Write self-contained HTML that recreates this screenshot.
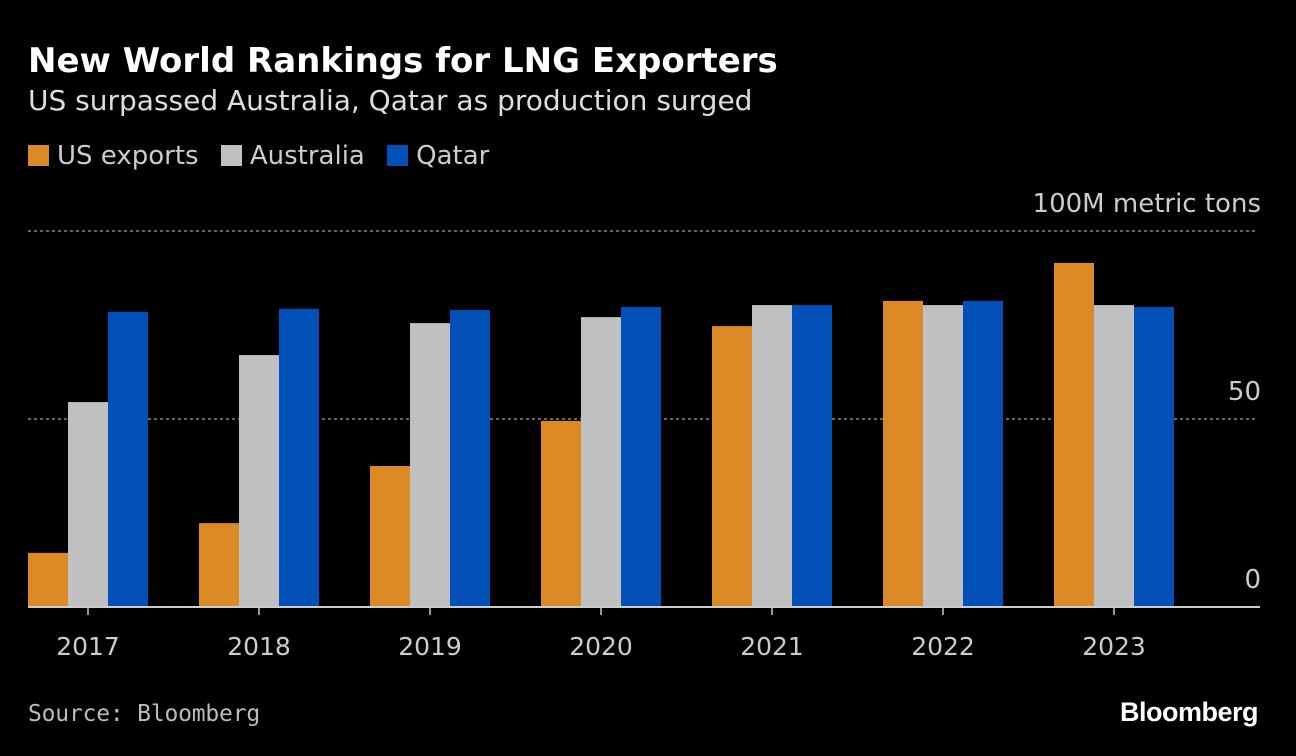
<!DOCTYPE html>
<html><head><meta charset="utf-8"><style>
body{margin:0;background:#000;width:1296px;height:756px;overflow:hidden;font-family:"DejaVu Sans","Liberation Sans",sans-serif;color:#fff}
.t{position:absolute;white-space:nowrap}
.sq{display:inline-block;width:21px;height:21px;vertical-align:-2px;margin-right:8px}
</style></head><body>
<div class="t" style="left:28px;top:41px;font-size:34px;font-weight:bold">New World Rankings for LNG Exporters</div>
<div class="t" style="left:28px;top:84px;font-size:28px;color:#ddd">US surpassed Australia, Qatar as production surged</div>
<div class="t" style="left:28px;top:141px;font-size:26px;color:#ccc">
<span><span class="sq" style="background:#dc8a26"></span>US exports</span>
<span style="margin-left:14px"><span class="sq" style="background:#c0c0c0"></span>Australia</span>
<span style="margin-left:14px"><span class="sq" style="background:#0050b8"></span>Qatar</span>
</div>
<svg id="c" width="1296" height="756" style="position:absolute;left:0;top:0"></svg>
<div class="t" style="left:28px;top:701px;font-size:23px;color:#bbb;font-family:'DejaVu Sans Mono','Liberation Mono',monospace;letter-spacing:-0.2px">Source: Bloomberg</div>
<div class="t" style="right:38px;top:697px;font-size:27px;font-weight:bold;letter-spacing:-0.5px;font-family:'Liberation Sans',sans-serif">Bloomberg</div>
<script>
const years=["2017","2018","2019","2020","2021","2022","2023"];
const usExports=[14.4,22.3,37.5,49.5,74.7,81.4,91.5];
const australia=[54.5,67.0,75.5,77.1,80.3,80.3,80.3];
const qatar=[78.5,79.3,79.0,79.8,80.3,81.4,79.8];
const yTicks=[0,50,100];
const yTickLabels=["0","50","100M metric tons"];
const svg=document.getElementById('c');
const NS="http://www.w3.org/2000/svg";
const y=v=>607-v*3.76;
const gx=i=>28+i*171;
function mk(t,a){const e=document.createElementNS(NS,t);for(const k in a)e.setAttribute(k,a[k]);svg.appendChild(e);return e;}
yTicks.forEach((v,i)=>{
 if(v>0){const l=mk('line',{x1:28,x2:1258,y1:y(v),y2:y(v),stroke:'#888','stroke-width':1.5,'stroke-dasharray':'3,3'});
 
 }
 const t=mk('text',{x:1261,y:y(v)-19,'text-anchor':'end','font-size':26,fill:'#ccc','font-family':'DejaVu Sans, sans-serif'});
 t.textContent=yTickLabels[i];
 
 
});
const series=[[usExports,'#dc8a26','us'],[australia,'#c0c0c0','australia'],[qatar,'#0050b8','qatar']];
years.forEach((yr,i)=>{
 series.forEach((s,j)=>{
  const r=mk('rect',{x:gx(i)+j*40,y:y(s[0][i]),width:40,height:607-y(s[0][i]),fill:s[1]});
  
  
 });
 const tk=mk('line',{x1:gx(i)+60,x2:gx(i)+60,y1:607,y2:615,stroke:'#ccc','stroke-width':1.5});
 
 
 const t=mk('text',{x:gx(i)+60,y:655,'text-anchor':'middle','font-size':25,fill:'#ccc','font-family':'DejaVu Sans, sans-serif'});
 t.textContent=yr;
 
 
});
const b=mk('line',{x1:28,x2:1260,y1:607,y2:607,stroke:'#ccc','stroke-width':2});


</script>
</body></html>
